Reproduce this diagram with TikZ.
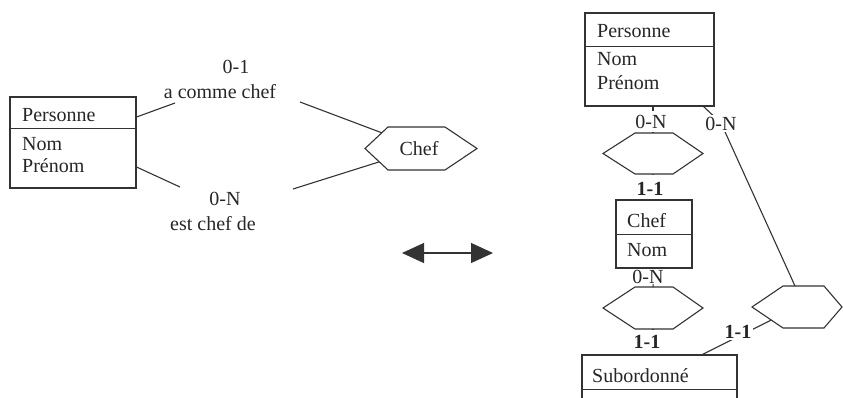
\documentclass[tikz,border=0pt]{standalone}
\usepackage{fontspec}
\setmainfont{Liberation Serif}
\usetikzlibrary{arrows.meta,calc}

% hexagon for a relationship: name, centre x, centre y, half width, half height, left tip, right tip
\newcommand\hexfig[7]{%
  \coordinate (#1-w)  at ({#2-#4},#3);
  \coordinate (#1-nw) at ({#2-#4+#6},{#3-#5});
  \coordinate (#1-ne) at ({#2+#4-#7},{#3-#5});
  \coordinate (#1-e)  at ({#2+#4},#3);
  \coordinate (#1-se) at ({#2+#4-#7},{#3+#5});
  \coordinate (#1-sw) at ({#2-#4+#6},{#3+#5});
  \coordinate (#1-n)  at (#2,{#3-#5});
  \coordinate (#1-s)  at (#2,{#3+#5});
  \draw[ink] (#1-w) -- (#1-nw) -- (#1-ne) -- (#1-e) -- (#1-se) -- (#1-sw) -- cycle;
}

\begin{document}
\begin{tikzpicture}[x=1pt,y=-1pt,
  every node/.style={font=\fontsize{20}{23}\selectfont, text=black!85},
  ink/.style={draw=black!80, line width=1.1pt},
  entity/.style={ink, rectangle, inner sep=0pt},
  txt/.style={anchor=base west, inner sep=0pt},
  card/.style={anchor=base, inner sep=2pt},
  cardw/.style={card, fill=white},
  strong/.style={font=\fontsize{20}{23}\selectfont\bfseries},
  tall/.style={text height=19pt, text depth=3pt, inner ysep=1pt},
  low/.style={text height=17pt, text depth=5pt, inner ysep=1pt},
  both/.style={{Triangle[length=22pt,width=20pt]}-{Triangle[length=22pt,width=20pt]}},
]
\useasboundingbox (0,0) rectangle (843,397);
\clip (0,0) rectangle (843,397);

% ---------- left: reflexive association ----------
\node[entity, minimum width=126, minimum height=91] (pA) at (73,142.5) {};
\draw[ink] ([yshift=-32]pA.north west) -- ([yshift=-32]pA.north east);
\node[txt] (pAt) at (22,121) {Personne};
\node[txt] (pAa) at (22,150) {Nom};
\node[txt] (pAb) at (22,172.5) {Prénom};

\hexfig{hc}{421}{148.5}{56}{21.5}{23}{32}
\node (hct) at (419,148.5) {Chef};

\coordinate (uL) at (175,103);
\coordinate (uR) at (300,102);
\coordinate (dL) at (180,187);
\coordinate (dR) at (293,189);
\draw[ink] ([yshift=25.5]pA.east) -- (uL);
\draw[ink] (uR) -- ($(hc-w)!0.73!(hc-nw)$);
\draw[ink] ([yshift=-24.5]pA.east) -- (dL);
\draw[ink] (dR) -- ($(hc-w)!0.62!(hc-sw)$);

\node[card] (cA1) at (236,73) {0-1};
\node[card] (cA2) at (220,98) {a comme chef};
\node[card] (cB1) at (225,205) {0-N};
\node[card] (cB2) at (213,230) {est chef de};

% ---------- equivalence arrow ----------
\coordinate (arL) at (402,253);
\coordinate (arR) at (493,253);
\draw[ink, both] (arL) -- (arR);

% ---------- right: Chef as an entity ----------
\node[entity, minimum width=129, minimum height=93] (pB) at (649.5,59.5) {};
\draw[ink] ([yshift=-34]pB.north west) -- ([yshift=-34]pB.north east);
\node[txt] (pBt) at (597,37) {Personne};
\node[txt] (pBa) at (597,65) {Nom};
\node[txt] (pBb) at (597,89) {Prénom};

\node[entity, minimum width=76, minimum height=68] (cB) at (654,234) {};
\draw[ink] ([yshift=-35]cB.north west) -- ([yshift=-35]cB.north east);
\node[txt] (cBt) at (627,227) {Chef};
\node[txt] (cBa) at (627,256) {Nom};

\node[entity, minimum width=155, minimum height=65] (sB) at (659.5,387.5) {};
\draw[ink] ([yshift=-35]sB.north west) -- ([yshift=-35]sB.north east);
\node[txt] (sBt) at (592,382) {Subordonné};

\hexfig{h1}{653}{153.5}{50}{20.5}{32}{30}
\hexfig{h3}{653}{308}{50}{21}{32}{30}
\hexfig{h2}{797}{307}{45}{21}{31}{18}

\coordinate (k2) at (721,123);
\draw[ink] ([xshift=3.5]pB.south) -- (h1-n);
\draw[ink] (h1-s) -- (cB.north);
\draw[ink] (cB.south) -- (h3-n);
\draw[ink] (h3-s) -- ([xshift=-6.5]sB.north);
\draw[ink] ([xshift=-11]pB.south east) -- (k2) -- ([xshift=12]h2-nw);
\draw[ink] ([xshift=-35]sB.north east) -- ($(h2-w)!0.62!(h2-sw)$);

\node[cardw, inner ysep=4pt] (k1) at (651,128) {0-N};
\node[cardw] (k2t) at (721,130) {0-N};
\node[cardw, strong, tall] (k3) at (650,195) {1-1};
\node[card, fill=white, inner sep=0.5pt] (k4) at (648,283) {0-N};
\node[cardw, strong, low] (k5) at (647,348) {1-1};
\node[cardw, strong] (k6) at (738,338) {1-1};
\end{tikzpicture}
\end{document}
